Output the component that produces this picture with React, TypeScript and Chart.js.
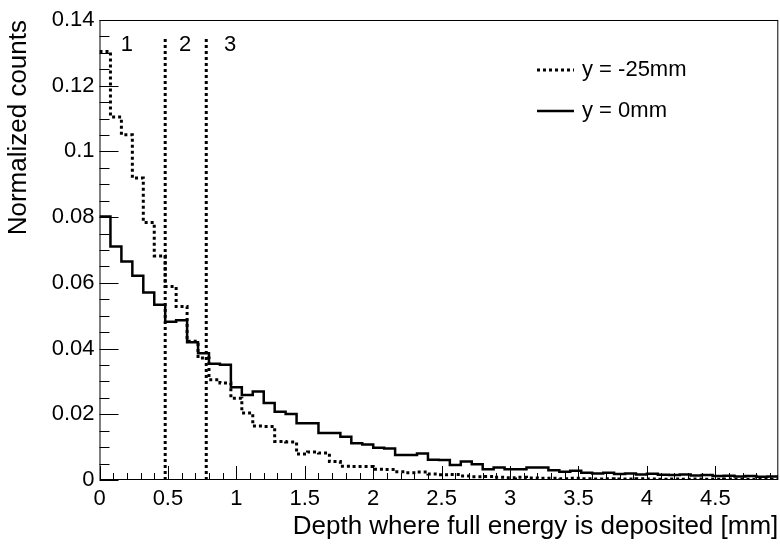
import React, { useEffect, useRef } from "react";
import { Chart, registerables } from "chart.js";

Chart.register(...registerables);

// ---------- data ----------
const BIN_WIDTH = 0.08;
const X_MIN = 0;
const X_MAX = 4.96;
const Y_MIN = 0;
const Y_MAX = 0.14;
const X_TICKS = [0, 0.5, 1, 1.5, 2, 2.5, 3, 3.5, 4, 4.5];
const Y_TICKS = [0, 0.02, 0.04, 0.06, 0.08, 0.1, 0.12, 0.14];
const X_MINOR_STEP = 0.1;
const Y_MINOR_STEP = 0.005;

const SERIES_NAMES = ["y = -25mm", "y = 0mm"];

// y = -25mm (dotted)
const COUNTS_M25 = [
  0.1304, 0.1105, 0.1051, 0.0919, 0.0784, 0.0682, 0.0589, 0.0528, 0.0422, 0.0371,
  0.0305, 0.0295, 0.0249, 0.0204, 0.0164, 0.0163, 0.0117, 0.0116, 0.0079, 0.0085,
  0.0082, 0.0056, 0.0042, 0.0041, 0.0041, 0.0033, 0.0032, 0.0025, 0.0022, 0.0024,
  0.0018, 0.0016, 0.0017, 0.0012, 0.0010, 0.0011, 0.0008, 0.0007, 0.0008, 0.0006,
  0.0005, 0.0005, 0.0004, 0.0005, 0.0004, 0.0003, 0.0004, 0.0003, 0.0003, 0.0004,
  0.0003, 0.0002, 0.0003, 0.0002, 0.0003, 0.0002, 0.0002, 0.0003, 0.0002, 0.0002,
  0.0002, 0.0002,
];

// y = 0mm (solid)
const COUNTS_0 = [
  0.0802, 0.0711, 0.0665, 0.0622, 0.0571, 0.0533, 0.0482, 0.0486, 0.0419, 0.0386,
  0.0354, 0.0351, 0.0282, 0.0259, 0.0269, 0.0234, 0.0208, 0.0201, 0.0173, 0.0173,
  0.0143, 0.0143, 0.0132, 0.0112, 0.0108, 0.0098, 0.0096, 0.0076, 0.0076, 0.0081,
  0.0062, 0.0061, 0.0046, 0.0056, 0.0048, 0.0033, 0.0038, 0.0033, 0.0033, 0.0038,
  0.0038, 0.0030, 0.0025, 0.0028, 0.0022, 0.0020, 0.0022, 0.0018, 0.0020, 0.0017,
  0.0019, 0.0016, 0.0015, 0.0017, 0.0014, 0.0015, 0.0012, 0.0013, 0.0011, 0.0012,
  0.0010, 0.0011,
];

const REGION_LINES_X = [0.48, 0.78];
const REGION_LINE_TOP = 0.1345;
const REGION_LABELS = ["1", "2", "3"];
const REGION_LABEL_X = [0.2, 0.625, 0.955];
const REGION_LABEL_Y = 0.1325;

const X_TITLE = "Depth where full energy is deposited [mm]";
const Y_TITLE = "Normalized counts";

const FONT = "'Liberation Sans', Arial, Helvetica, sans-serif";

// points at bin edges: value of bin i held from edge i to edge i+1
function histPoints(values: number[]) {
  const pts = [{ x: X_MIN, y: values[0] }];
  values.forEach((v, i) => pts.push({ x: X_MIN + (i + 1) * BIN_WIDTH, y: v }));
  return pts;
}

const rootPlugin = {
  id: "rootStyle",
  afterDatasetsDraw(chart: any) {
    const { ctx, chartArea } = chart;
    const xs = chart.scales.x;
    const ys = chart.scales.y;
    const { left, right, top, bottom } = chartArea;
    ctx.save();
    ctx.strokeStyle = "#000";
    ctx.lineWidth = 1;
    ctx.setLineDash([]);
    ctx.strokeRect(left + 0.5, top + 0.5, right - left - 1, bottom - top - 1);

    ctx.beginPath();
    const nx = Math.round((X_MAX - X_MIN) / X_MINOR_STEP);
    for (let i = 0; i <= nx; i++) {
      const v = X_MIN + i * X_MINOR_STEP;
      if (v > X_MAX + 1e-9) break;
      const px = Math.round(xs.getPixelForValue(v)) + 0.5;
      const major = X_TICKS.some((t) => Math.abs(t - v) < 1e-6);
      const len = major ? 14 : 7;
      ctx.moveTo(px, bottom);
      ctx.lineTo(px, bottom - len);
    }
    const ny = Math.round((Y_MAX - Y_MIN) / Y_MINOR_STEP);
    for (let i = 0; i <= ny; i++) {
      const v = Y_MIN + i * Y_MINOR_STEP;
      const py = Math.round(ys.getPixelForValue(v)) + 0.5;
      const major = Y_TICKS.some((t) => Math.abs(t - v) < 1e-6);
      const len = major ? 19 : 10;
      ctx.moveTo(left, py);
      ctx.lineTo(left + len, py);
    }
    ctx.stroke();

    ctx.fillStyle = "#000";
    ctx.font = `22px ${FONT}`;
    ctx.textAlign = "center";
    ctx.textBaseline = "middle";
    REGION_LABELS.forEach((t, i) => {
      ctx.fillText(t, xs.getPixelForValue(REGION_LABEL_X[i]), ys.getPixelForValue(REGION_LABEL_Y));
    });

    const rows = [70, 111];
    chart.data.datasets.forEach((ds: any, i: number) => {
      if (!ds.label || ds.isRegion) return;
      const y = rows[i];
      ctx.beginPath();
      ctx.lineWidth = ds.borderWidth;
      ctx.setLineDash(ds.borderDash || []);
      ctx.strokeStyle = ds.borderColor;
      ctx.moveTo(537, y);
      ctx.lineTo(574, y);
      ctx.stroke();
      ctx.setLineDash([]);
      ctx.textAlign = "left";
      ctx.textBaseline = "middle";
      ctx.fillText(ds.label, 582, y);
    });
    ctx.restore();
  },
};

export default function App() {
  const ref = useRef<HTMLCanvasElement | null>(null);

  useEffect(() => {
    document.body.style.margin = "0";
    const canvas = ref.current!;
    const regionDatasets = REGION_LINES_X.map((x) => ({
      label: "",
      isRegion: true,
      data: [
        { x, y: Y_MIN },
        { x, y: REGION_LINE_TOP },
      ],
      borderColor: "#000",
      borderWidth: 3,
      borderDash: [3, 3],
      pointRadius: 0,
      fill: false,
    }));

    const chart = new Chart(canvas, {
      type: "line",
      data: {
        datasets: [
          {
            label: SERIES_NAMES[0],
            data: histPoints(COUNTS_M25),
            stepped: "after",
            borderColor: "#000",
            borderWidth: 3,
            borderDash: [3, 3],
            borderCapStyle: "butt",
            pointRadius: 0,
            fill: false,
          } as any,
          {
            label: SERIES_NAMES[1],
            data: histPoints(COUNTS_0),
            stepped: "after",
            borderColor: "#000",
            borderWidth: 2.5,
            borderJoinStyle: "miter",
            pointRadius: 0,
            fill: false,
          } as any,
          ...(regionDatasets as any[]),
        ],
      },
      options: {
        responsive: false,
        animation: false,
        devicePixelRatio: 1,
        parsing: false as any,
        layout: { padding: { top: 20, right: 1.7, left: 0, bottom: 0 } },
        plugins: { legend: { display: false }, tooltip: { enabled: false } },
        scales: {
          x: {
            type: "linear",
            min: X_MIN,
            max: X_MAX,
            grid: { display: false, drawTicks: false },
            border: { display: false },
            afterFit: (s: any) => {
              s.height = 66;
            },
            afterBuildTicks: (s: any) => {
              s.ticks = X_TICKS.map((v) => ({ value: v }));
            },
            ticks: {
              autoSkip: false,
              maxRotation: 0,
              padding: 6,
              color: "#000",
              font: { family: FONT, size: 22 },
              callback: (v: any) => String(Number(Number(v).toFixed(2))),
            },
            title: {
              display: true,
              text: X_TITLE,
              align: "end",
              color: "#000",
              font: { family: FONT, size: 26 },
              padding: { top: 0, bottom: 4 },
            },
          },
          y: {
            type: "linear",
            min: Y_MIN,
            max: Y_MAX,
            grid: { display: false, drawTicks: false },
            border: { display: false },
            afterFit: (s: any) => {
              s.width = 99.5;
            },
            afterBuildTicks: (s: any) => {
              s.ticks = Y_TICKS.map((v) => ({ value: v }));
            },
            ticks: {
              autoSkip: false,
              padding: 5,
              color: "#000",
              font: { family: FONT, size: 22 },
              callback: (v: any) => String(Number(Number(v).toFixed(3))),
            },
            title: {
              display: true,
              text: Y_TITLE,
              align: "end",
              color: "#000",
              font: { family: FONT, size: 26 },
              padding: { top: 3, bottom: 0 },
            },
          },
        },
      } as any,
      plugins: [rootPlugin],
    });
    return () => chart.destroy();
  }, []);

  return (
    <div style={{ position: "absolute", left: 0, top: 0, width: 780, height: 546, background: "#fff" }}>
      <canvas ref={ref} width={780} height={546} style={{ display: "block" }} />
    </div>
  );
}
